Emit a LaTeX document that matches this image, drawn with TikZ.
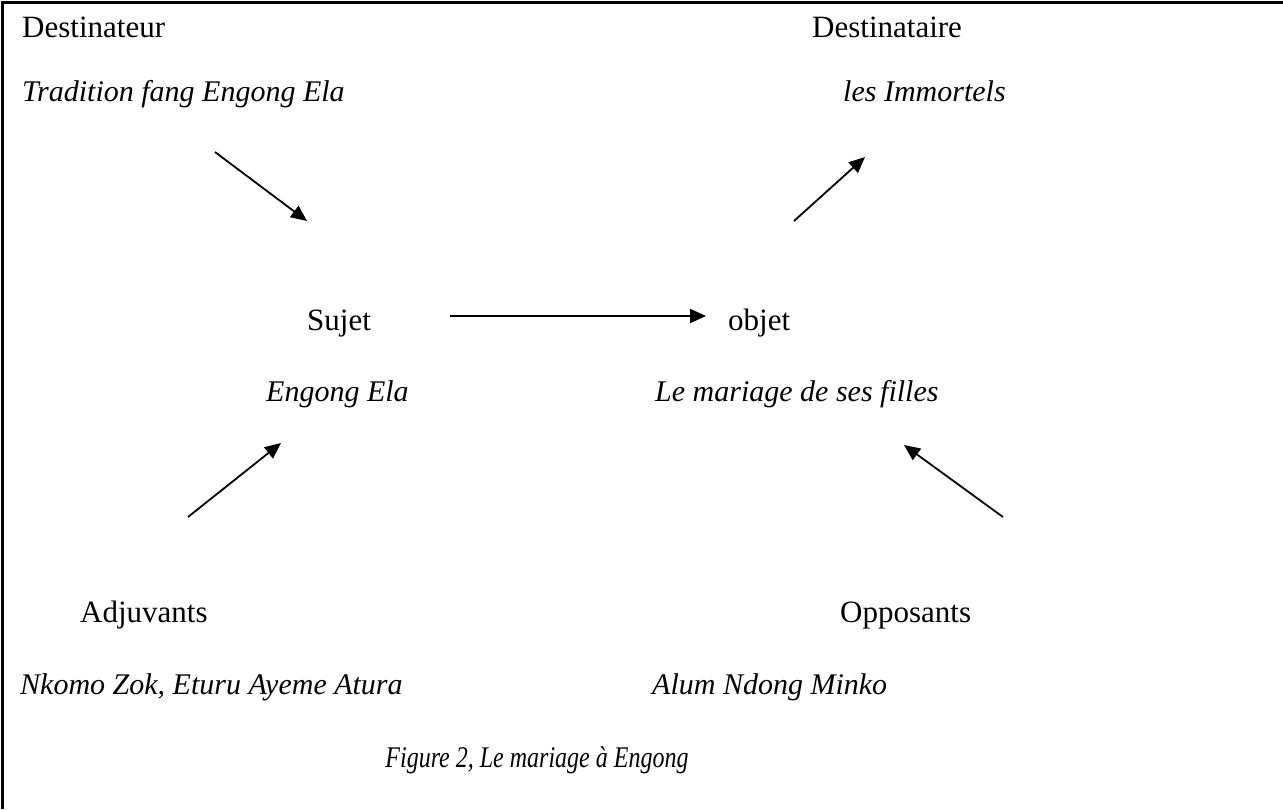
\documentclass[tikz,border=0pt]{standalone}
\usepackage{fontspec}
\setmainfont{Liberation Serif}
\usetikzlibrary{arrows.meta}
\begin{document}
\begin{tikzpicture}[x=1pt,y=-1pt,
  lbl/.style={inner sep=0pt,font=\fontsize{31}{36}\selectfont},
  itl/.style={inner sep=0pt,font=\fontsize{30}{36}\selectfont\itshape},
  arr/.style={line width=1.8pt,-{Triangle[length=16pt,width=14pt]}}]
\useasboundingbox (0,0) rectangle (1283,809);
\draw[line width=2.5pt] (2.5,809) -- (2.5,2.5) -- (1283,2.5);
% top
\node[lbl,anchor=base west] (dr) at (22,37) {Destinateur};
\node[itl,anchor=base west] (drv) at (22,101) {Tradition fang Engong Ela};
\node[lbl,anchor=base west] (da) at (812,37) {Destinataire};
\node[itl,anchor=base west] (dav) at (843,101) {les Immortels};
% middle
\node[lbl,anchor=base west] (s) at (307,330) {Sujet};
\node[lbl,anchor=base west] (o) at (728,330) {objet};
\node[itl,anchor=base west] (sv) at (266,401) {Engong Ela};
\node[itl,anchor=base west] (ov) at (655,401) {Le mariage de ses filles};
% bottom
\node[lbl,anchor=base west] (ad) at (80,622) {Adjuvants};
\node[lbl,anchor=base west] (op) at (840,622) {Opposants};
\node[itl,anchor=base west] (adv) at (20,694) {Nkomo Zok, Eturu Ayeme Atura};
\node[itl,anchor=base west] (opv) at (652,694) {Alum Ndong Minko};
\node[itl,anchor=base] (fig) at (537,767) {\scalebox{0.8}[1]{Figure 2, Le mariage à Engong}};
% arrow end points
\coordinate (a1s) at (215,152); \coordinate (a1e) at (307,221);
\coordinate (a2s) at (794,221); \coordinate (a2e) at (865,157);
\coordinate (a3s) at (450,316); \coordinate (a3e) at (706,316);
\coordinate (a4s) at (188,517); \coordinate (a4e) at (281,443);
\coordinate (a5s) at (1003,517); \coordinate (a5e) at (904,445);
\draw[arr] (a1s) -- (a1e);
\draw[arr] (a2s) -- (a2e);
\draw[arr] (a3s) -- (a3e);
\draw[arr] (a4s) -- (a4e);
\draw[arr] (a5s) -- (a5e);
\end{tikzpicture}
\end{document}
